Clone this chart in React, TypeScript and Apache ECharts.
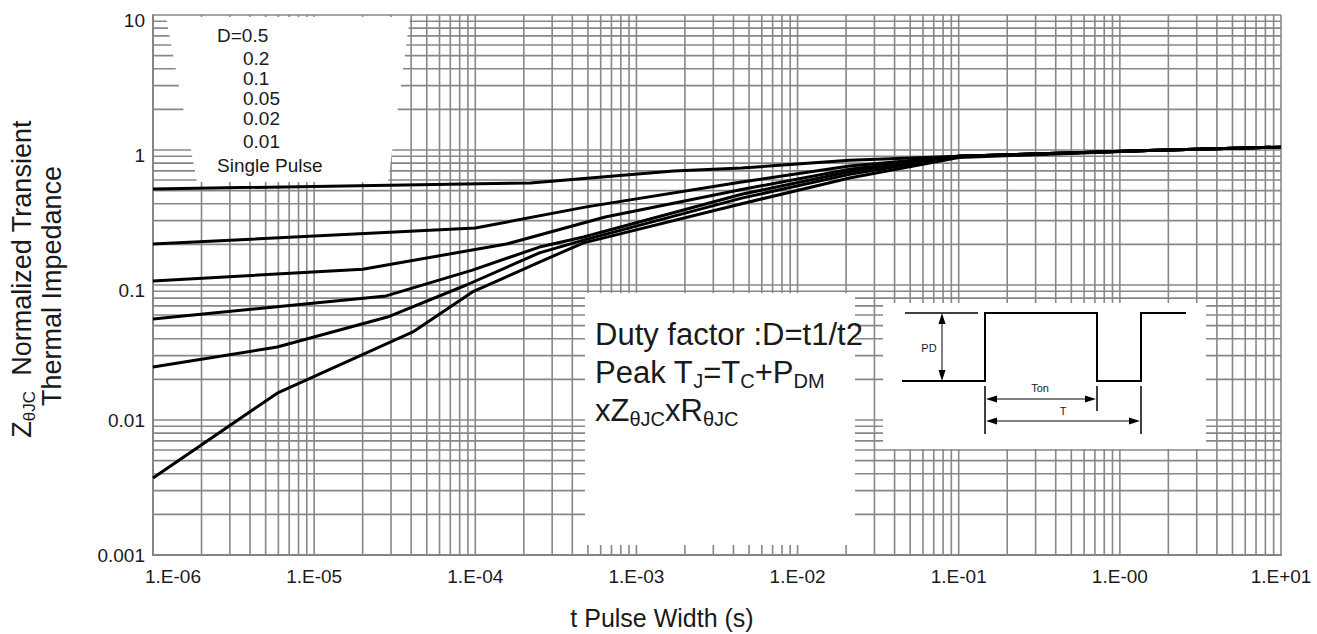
import React, { useEffect, useRef } from 'react';
import * as echarts from 'echarts';

const FONT = '"Liberation Sans", Arial, Helvetica, sans-serif';
const TEXT = '#1a1a1a';
const GRID = '#878787';

// ---- axis / tick data ----
const xTickLabels = ['1.E-06', '1.E-05', '1.E-04', '1.E-03', '1.E-02', '1.E-01', '1.E-00', '1.E+01'];
const yTickLabels = ['0.001', '0.01', '0.1', '1', '10'];
const xDecades = [1e-6, 1e-5, 1e-4, 1e-3, 1e-2, 1e-1, 1];
const yDecades = [1e-3, 1e-2, 1e-1, 1];
const gridMultipliers = [1, 2, 3, 4, 5, 6, 7, 8, 9];
const X_MIN = 1e-6;
const X_MAX = 10;
const Y_MIN = 1e-3;
const Y_MAX = 10;

// ---- legend text (top-left box) ----
const legendLabels = ['D=0.5', '0.2', '0.1', '0.05', '0.02', '0.01', 'Single Pulse'];

// ---- curves: [pulse width (s), normalized Zth] ----
const seriesNames = ['D=0.5', 'D=0.2', 'D=0.1', 'D=0.05', 'D=0.02', 'Single Pulse'];
const curveD05 = [[1e-6, 0.514], [2.2e-4, 0.57], [1.7e-3, 0.70], [4.5e-3, 0.735], [2.1e-2, 0.84], [0.1, 0.9], [1.5, 0.99], [10, 1.05]];
const curveD02 = [[1e-6, 0.201], [1e-4, 0.264], [4.9e-4, 0.379], [4.5e-3, 0.58], [2.1e-2, 0.76], [0.1, 0.9], [1.5, 0.99], [10, 1.05]];
const curveD01 = [[1e-6, 0.107], [2e-5, 0.131], [1.56e-4, 0.201], [6.4e-4, 0.319], [4.5e-3, 0.51], [2.1e-2, 0.72], [0.1, 0.9], [1.5, 0.99], [10, 1.05]];
const curveD005 = [[1e-6, 0.056], [2.8e-5, 0.083], [9.6e-5, 0.129], [2.5e-4, 0.191], [4.7e-4, 0.227], [4.5e-3, 0.47], [2.1e-2, 0.69], [0.1, 0.9], [1.5, 0.99], [10, 1.05]];
const curveD002 = [[1e-6, 0.0247], [5.9e-6, 0.0347], [2.85e-5, 0.0579], [8.8e-5, 0.1], [2.5e-4, 0.173], [4.7e-4, 0.215], [4.5e-3, 0.44], [2.1e-2, 0.66], [0.1, 0.9], [1.5, 0.99], [10, 1.05]];
const curveSingle = [[1e-6, 0.00372], [5.9e-6, 0.0158], [4.1e-5, 0.0449], [9.6e-5, 0.0888], [1.56e-4, 0.115], [2.5e-4, 0.148], [4.7e-4, 0.205], [4.5e-3, 0.40], [2.1e-2, 0.62], [0.1, 0.88], [1.5, 0.99], [10, 1.05]];
const curves = [curveD05, curveD02, curveD01, curveD005, curveD002, curveSingle];

function buildGridValues(decades: number[], top: number) {
  const out: number[] = [];
  decades.forEach((d) => gridMultipliers.forEach((m) => out.push(m * d)));
  out.push(top);
  return out;
}

function buildOption() {
  const xGrid = buildGridValues(xDecades, X_MAX);
  const yGrid = buildGridValues(yDecades, Y_MAX);

  const gridLineSeries = (vertical: boolean, values: number[]) => ({
    type: 'custom',
    silent: true,
    z: 1,
    clip: false,
    data: values.map((v) => (vertical ? [v, 1] : [1, v])),
    encode: { x: 0, y: 1 },
    renderItem: (_p: any, api: any) => {
      const v = vertical ? api.value(0) : api.value(1);
      const a = vertical ? api.coord([v, Y_MIN]) : api.coord([X_MIN, v]);
      const b = vertical ? api.coord([v, Y_MAX]) : api.coord([X_MAX, v]);
      return {
        type: 'line',
        shape: { x1: a[0], y1: a[1], x2: b[0], y2: b[1] },
        style: { stroke: GRID, lineWidth: 1.6 },
      };
    },
  });

  const txt = (text: string, x: number, y: number, fontSize: number, align = 'left', rotation = 0, lineHeight?: number) => ({
    type: 'text',
    x,
    y,
    rotation,
    z: 20,
    silent: true,
    style: { text, fontSize, fontFamily: FONT, fill: TEXT, align, verticalAlign: 'middle', lineHeight: lineHeight ?? Math.round(fontSize * 1.2) },
  });
  const ln = (x1: number, y1: number, x2: number, y2: number, w = 2) => ({
    type: 'line',
    z: 20,
    silent: true,
    shape: { x1, y1, x2, y2 },
    style: { stroke: '#000', lineWidth: w },
  });
  const head = (pts: number[][]) => ({
    type: 'polygon',
    z: 20,
    silent: true,
    shape: { points: pts },
    style: { fill: '#000' },
  });

  const legendX = [217, 243, 243, 243, 243, 243, 217];
  const legendY = [35, 58, 78, 98, 118, 141, 165];

  const subRich = (size: number, lh: number) => ({
    s: { fontSize: size, fontFamily: FONT, fill: TEXT, verticalAlign: 'bottom', lineHeight: lh },
  });

  const elements: any[] = [
    // white boxes
    { type: 'polygon', z: 3, silent: true, shape: { points: [[166, 17], [410, 17], [388, 182], [197, 182]] }, style: { fill: '#fff' } },
    { type: 'rect', z: 3, silent: true, shape: { x: 585, y: 293, width: 270, height: 252 }, style: { fill: '#fff' } },
    { type: 'rect', z: 3, silent: true, shape: { x: 883, y: 303, width: 323, height: 146 }, style: { fill: '#fff' } },
    // legend labels
    ...legendLabels.map((l, i) => txt(l, legendX[i], legendY[i], 19, 'left', 0, 18)),
    // axis titles
    txt('t Pulse Width (s)', 662, 618, 25, 'center', 0, 28),
    {
      type: 'text', x: 22, y: 279, rotation: Math.PI / 2, z: 20, silent: true,
      style: {
        text: 'Z{s|θJC}  Normalized Transient', fontSize: 27, lineHeight: 32, fontFamily: FONT, fill: TEXT,
        align: 'center', verticalAlign: 'middle', rich: subRich(17, 20),
      },
    },
    txt('Thermal Impedance', 52, 286, 27, 'center', Math.PI / 2, 30),
    // duty text
    {
      type: 'text', x: 595, y: 315, z: 20, silent: true,
      style: {
        text: 'Duty factor :D=t1/t2\nPeak T{s|J}=T{s|C}+P{s|DM}\nxZ{s|θJC}xR{s|θJC}',
        fontSize: 31, lineHeight: 38, fontFamily: FONT, fill: TEXT, align: 'left', verticalAlign: 'top',
        rich: subRich(20, 24),
      },
    },
    // waveform
    {
      type: 'polyline', z: 20, silent: true,
      shape: { points: [[902, 381], [985, 381], [985, 313], [1097, 313], [1097, 381], [1141, 381], [1141, 313], [1186, 313]] },
      style: { stroke: '#000', lineWidth: 2, fill: null },
    },
    ln(905, 313, 978, 313, 1.5),
    ln(942, 320, 942, 374, 1),
    head([[942, 313], [938.5, 324], [945.5, 324]]),
    head([[942, 381], [938.5, 370], [945.5, 370]]),
    ln(985, 386, 985, 434, 1.5),
    ln(1097, 386, 1097, 411, 1.5),
    ln(1141, 386, 1141, 434, 1.5),
    ln(992, 399, 1090, 399, 1),
    head([[986, 399], [997, 395.5], [997, 402.5]]),
    head([[1096, 399], [1085, 395.5], [1085, 402.5]]),
    ln(992, 421, 1134, 421, 1),
    head([[986, 421], [997, 417.5], [997, 424.5]]),
    head([[1140, 421], [1129, 417.5], [1129, 424.5]]),
    txt('PD', 929, 348, 11, 'center'),
    txt('Ton', 1040, 388, 11, 'center'),
    txt('T', 1063, 411, 11, 'center'),
  ];

  return {
    animation: false,
    backgroundColor: '#fff',
    grid: { left: 153, top: 15, width: 1128, height: 540, containLabel: false },
    xAxis: {
      type: 'log',
      logBase: 10,
      min: X_MIN,
      max: X_MAX,
      splitNumber: 7,
      axisLine: { show: true, onZero: false, lineStyle: { color: '#7d7d7d', width: 2 } },
      axisTick: { show: false },
      splitLine: { show: false },
      minorTick: { show: false },
      axisLabel: {
        margin: 12,
        fontSize: 19,
        fontFamily: FONT,
        color: TEXT,
        formatter: (v: number) => {
          const i = Math.round(Math.log10(v)) + 6;
          const s = xTickLabels[i] ?? '';
          return i === 0 ? `{first|${s}}` : s;
        },
        rich: { first: { fontSize: 19, fontFamily: FONT, color: TEXT, padding: [0, 0, 0, 40] } },
      },
    },
    yAxis: {
      type: 'log',
      logBase: 10,
      min: Y_MIN,
      max: Y_MAX,
      splitNumber: 4,
      axisLine: { show: true, onZero: false, lineStyle: { color: '#7d7d7d', width: 2 } },
      axisTick: { show: false },
      splitLine: { show: false },
      axisLabel: {
        margin: 8,
        fontSize: 19,
        fontFamily: FONT,
        color: TEXT,
        formatter: (v: number) => {
          const e = Math.round(Math.log10(v));
          const s = yTickLabels[e + 3] ?? '';
          return e >= -1 ? `{lo|${s}}` : `{n|${s}}`;
        },
        rich: {
          lo: { fontSize: 19, fontFamily: FONT, color: TEXT, padding: [11, 0, 0, 0] },
          n: { fontSize: 19, fontFamily: FONT, color: TEXT },
        },
      },
    },
    series: [
      gridLineSeries(true, xGrid),
      gridLineSeries(false, yGrid),
      ...curves.map((c, i) => ({
        type: 'line',
        name: seriesNames[i],
        data: c,
        z: 5,
        silent: true,
        showSymbol: false,
        symbol: 'none',
        clip: true,
        lineStyle: { color: '#000', width: 3 },
      })),
    ],
    graphic: { elements },
  };
}

export default function App() {
  const ref = useRef<HTMLDivElement>(null);
  useEffect(() => {
    document.body.style.margin = '0';
    const chart = echarts.init(ref.current!, null, { renderer: 'svg' });
    chart.setOption(buildOption() as any);
    return () => chart.dispose();
  }, []);
  return <div ref={ref} style={{ width: 1317, height: 634 }} />;
}
